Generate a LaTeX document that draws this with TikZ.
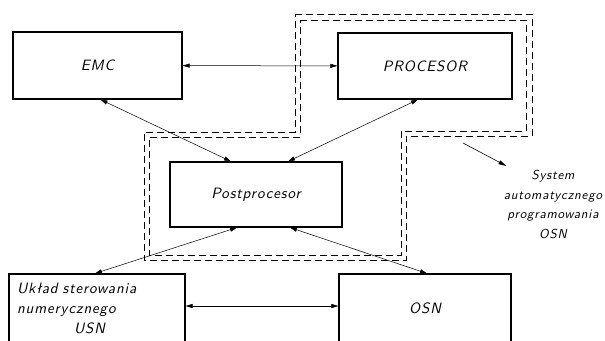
\documentclass[tikz,border=0pt]{standalone}
\usepackage{fontspec}
\newfontfamily\techfont{lmsans10-oblique.otf}[LetterSpace=6]
\usetikzlibrary{arrows.meta,positioning,calc}

\begin{document}
\begin{tikzpicture}[x=1pt,y=-1pt,
  blok/.style={draw,line width=1.1pt,inner sep=2pt,font=\techfont\fontsize{15}{20}\selectfont},
  link/.style={line width=0.5pt,{Triangle[length=7pt,width=4pt]}-{Triangle[length=7pt,width=4pt]}},
  ramka/.style={line width=1pt,dash pattern=on 7pt off 4pt}]
  \useasboundingbox (0,0) rectangle (605,340);
  \clip (0,0) rectangle (605,340);
  % blocks
  \node[blok,minimum width=169pt,minimum height=67pt] (emc) at (97.5,65.5) {EMC};
  \node[blok,minimum width=174pt,minimum height=66pt] (procesor) at (425,66) {PROCESOR};
  \node[blok,minimum width=172pt,minimum height=65pt] (postproc) at (256,194.5) {Postprocesor};
  \node[blok,inner xsep=8pt,text width=160pt,minimum height=68pt,align=left] (usn) at (97,308)
    {Układ sterowania\\numerycznego\\\hspace*{3.8em}USN};
  \node[blok,minimum width=172pt,minimum height=68pt] (osn) at (425,308) {OSN};
  % system boundary (double dashed)
  \draw[ramka] (295,14) -- (532,14) -- (532,136) -- (406,136) -- (406,260)
    -- (144,260) -- (144,132) -- (295,132) -- cycle;
  \draw[ramka] (300,20) -- (526,20) -- (526,131) -- (401,131) -- (401,255)
    -- (149,255) -- (149,137) -- (300,137) -- cycle;
  % data flow
  \draw[link] (emc) -- (procesor);
  \draw[link] ([xshift=3pt]emc.south) -- ([xshift=-25pt]postproc.north);
  \draw[link] ([xshift=-7pt]procesor.south) -- ([xshift=32pt]postproc.north);
  \draw[link] ([xshift=-19pt]postproc.south) -- ([xshift=-2pt]usn.north);
  \draw[link] ([xshift=34pt]postproc.south) -- ([xshift=2pt]osn.north);
  \draw[link] ([yshift=2pt]usn.east) -- ([yshift=2pt]osn.west);
  % label
  \node[font=\techfont\fontsize{13}{19.5}\selectfont,align=center,anchor=north] (sap) at (553,167)
    {System\\automatycznego\\programowania\\OSN};
  \coordinate (tick) at (463,143);
  \draw[line width=0.6pt,-{Triangle[length=8pt,width=4pt]}] (tick) -- ([xshift=6pt,yshift=1pt]sap.north west);
\end{tikzpicture}
\end{document}
